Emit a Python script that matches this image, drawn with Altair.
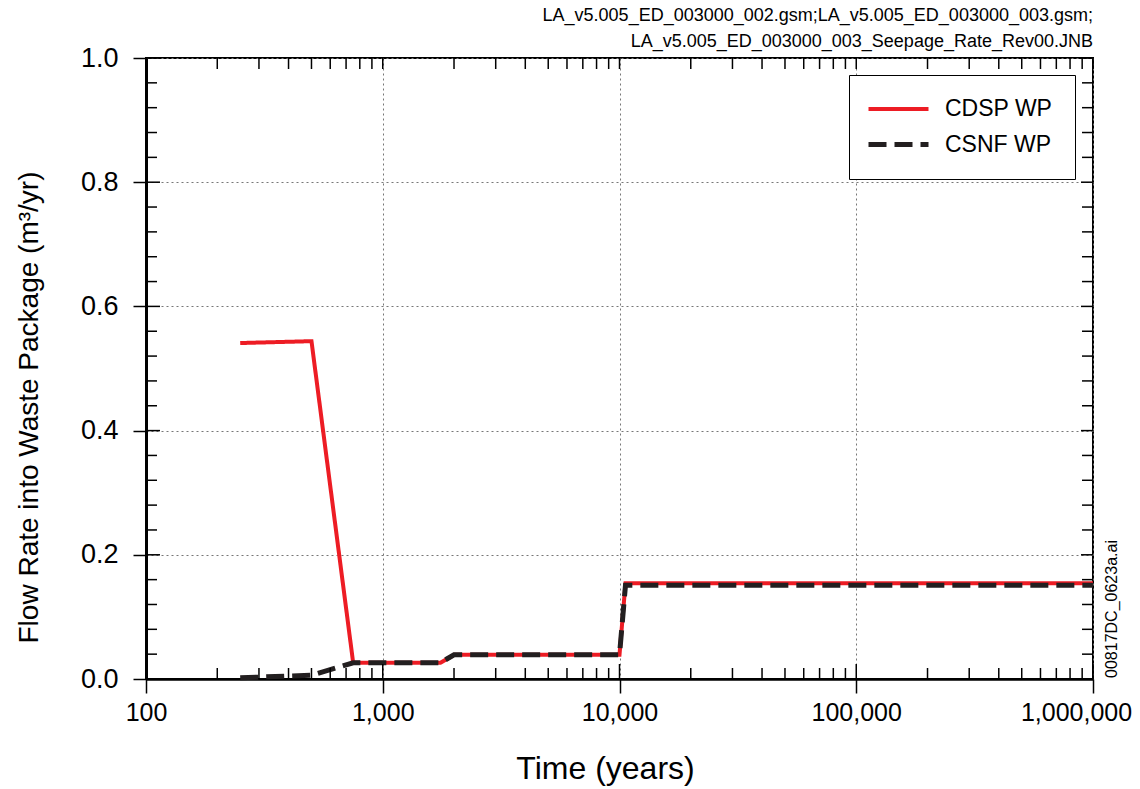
import altair as alt
import pandas as pd

# Seepage flow rate into waste packages (m^3/yr) versus time (years)
time_years = [250, 500, 750, 1750, 2000, 10000, 10600, 1000000]
cdsp_rate = [0.541, 0.544, 0.026, 0.026, 0.039, 0.039, 0.154, 0.154]
csnf_rate = [0.002, 0.006, 0.026, 0.026, 0.039, 0.039, 0.151, 0.151]

series_names = ["CDSP WP", "CSNF WP"]
series_colors = ["#ED1C24", "#231F20"]

x_major = [100, 1000, 10000, 100000, 1000000]
x_minor = [200, 300, 400, 500, 600, 700, 800, 900,
           2000, 3000, 4000, 5000, 6000, 7000, 8000, 9000,
           20000, 30000, 40000, 50000, 60000, 70000, 80000, 90000,
           200000, 300000, 400000, 500000, 600000, 700000, 800000, 900000]
y_major = [0.0, 0.2, 0.4, 0.6, 0.8, 1.0]
y_minor = [0.04, 0.08, 0.12, 0.16, 0.24, 0.28, 0.32, 0.36, 0.44, 0.48,
           0.52, 0.56, 0.64, 0.68, 0.72, 0.76, 0.84, 0.88, 0.92, 0.96]

header_lines = [
    "LA_v5.005_ED_003000_002.gsm;LA_v5.005_ED_003000_003.gsm;",
    "LA_v5.005_ED_003000_003_Seepage_Rate_Rev00.JNB",
]
file_tag = "00817DC_0623a.ai"

FONT = "Liberation Sans"
W, H = 947, 621

df = pd.DataFrame({
    "time": time_years + time_years,
    "rate": cdsp_rate + csnf_rate,
    "series": [series_names[0]] * len(time_years) + [series_names[1]] * len(time_years),
})

xs = alt.Scale(type="log", domain=[100, 1000000], nice=False)
ys = alt.Scale(domain=[0, 1], nice=False)

# legend key: a 60 px horizontal stroke drawn with a small entry height
legend = alt.Legend(
    title=None, orient="none", legendX=703, legendY=17, direction="vertical",
    symbolType="M-3,0H3", symbolSize=400, symbolStrokeWidth=4,
    labelFontSize=23, labelFont=FONT, labelColor="black",
    padding=22, rowPadding=11, symbolOffset=15, labelOffset=34,
    strokeColor="black", fillColor="white", cornerRadius=0,
)

lines = alt.Chart(df).mark_line(strokeCap="butt", strokeJoin="miter").encode(
    x=alt.X("time:Q", scale=xs, axis=alt.Axis(
        values=x_major, format=",.0f", tickSize=14, tickWidth=1.5, tickColor="black",
        labelFontSize=25, labelFont=FONT, labelColor="black", labelPadding=7,
        labelFlush=False, labelOverlap=False,
        labelOffset={"condition": {"test": "datum.value >= 1000000", "value": -17}, "value": 0},
        domainColor="black", domainWidth=2.5,
        grid=True, gridDash=[2, 3], gridColor="#777777", gridWidth=1,
        title="Time (years)", titleFont=FONT, titleFontSize=32, titleFontWeight="normal",
        titleColor="black", titleX=459, titleY=99, titleAlign="center",
        titleBaseline="alphabetic",
    )),
    y=alt.Y("rate:Q", scale=ys, axis=alt.Axis(
        values=y_major, format=".1f", tickSize=13, tickWidth=1.5, tickColor="black",
        labelFontSize=27, labelFont=FONT, labelColor="black", labelPadding=15,
        domainColor="black", domainWidth=3,
        grid=True, gridDash=[2, 3], gridColor="#777777", gridWidth=1,
        title="Flow Rate into Waste Package (m³/yr)", titleFont=FONT, titleFontSize=28,
        titleFontWeight="normal", titleColor="black", titleX=-109, titleY=349,
        titleAngle=270, titleAlign="center", titleBaseline="alphabetic",
    )),
    color=alt.Color("series:N", scale=alt.Scale(domain=series_names, range=series_colors),
                    legend=legend),
    strokeDash=alt.StrokeDash("series:N",
                              scale=alt.Scale(domain=series_names, range=[[1, 0], [18, 8]]),
                              legend=legend),
    strokeWidth=alt.StrokeWidth("series:N", scale=alt.Scale(domain=series_names, range=[4, 5]),
                                legend=None),
)


def xticks(values, y0, y1):
    return alt.Chart(pd.DataFrame({"time": values})).mark_rule(
        color="black", strokeWidth=1.5
    ).encode(x=alt.X("time:Q", scale=xs), y=alt.value(y0), y2=alt.value(y1))


def yticks(values, x0, x1):
    return alt.Chart(pd.DataFrame({"rate": values})).mark_rule(
        color="black", strokeWidth=1.5
    ).encode(y=alt.Y("rate:Q", scale=ys), x=alt.value(x0), x2=alt.value(x1))


tick_layers = [
    xticks(x_minor, H, H - 11), xticks(x_minor, 0, 11),
    xticks(x_major, H, H - 15), xticks(x_major, 0, 11),
    yticks(y_minor, 0, 11), yticks(y_minor, W, W - 11),
    yticks(y_major, 0, 14), yticks(y_major, W, W - 12),
]

tag = alt.Chart(pd.DataFrame({"label": [file_tag]})).mark_text(
    angle=270, fontSize=16, font=FONT, color="black", align="center", baseline="middle"
).encode(text="label:N", x=alt.value(966), y=alt.value(551))

chart = alt.layer(lines, *tick_layers, tag).properties(
    width=W, height=H,
    padding={"left": 146, "top": 58, "right": 47, "bottom": 110},
    autosize="none",
    title=alt.Title(header_lines, anchor="end", frame="group", fontSize=18,
                    fontWeight="normal", font=FONT, color="black", lineHeight=26,
                    offset=6, dy=13),
).configure(font=FONT).configure_view(stroke="black", strokeWidth=2)

chart.save("out.html", embed_options={"renderer": "svg", "actions": False})
